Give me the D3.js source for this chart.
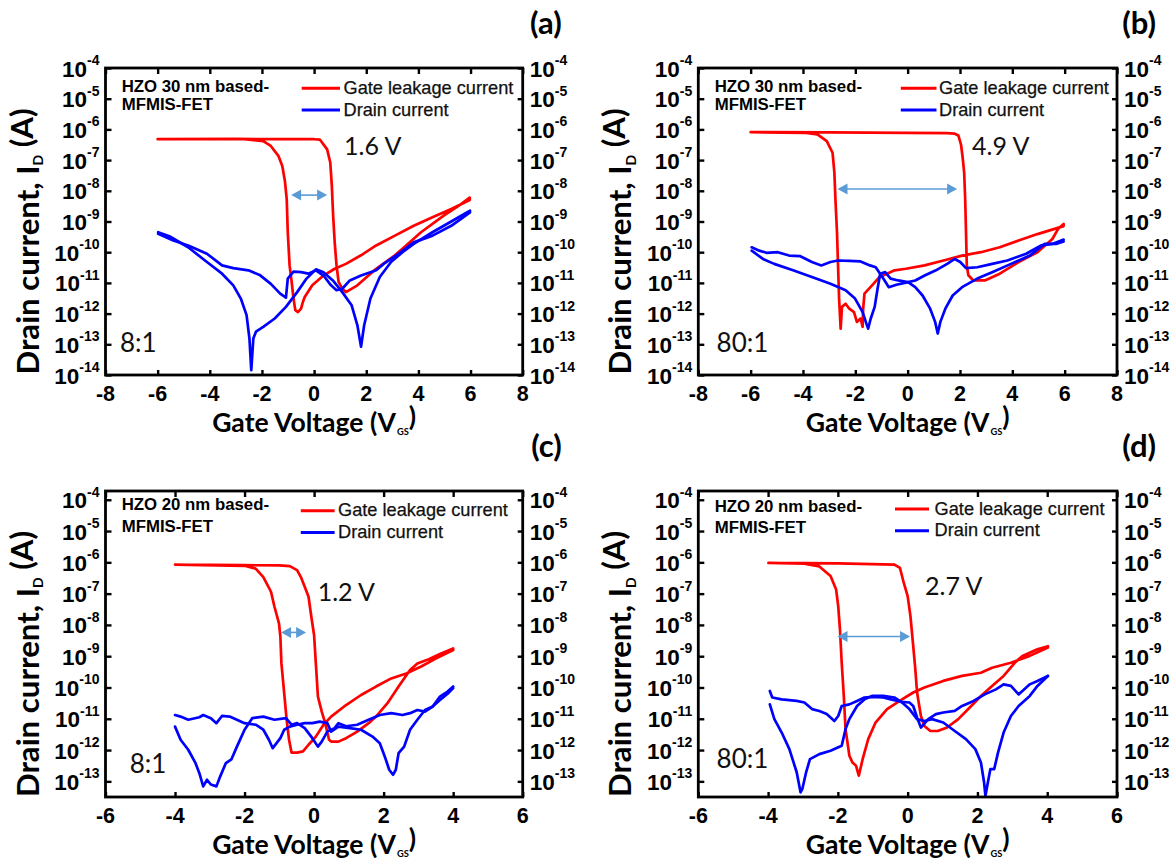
<!DOCTYPE html>
<html><head><meta charset="utf-8">
<script src="https://cdn.jsdelivr.net/npm/d3@7"></script>
<style>body{margin:0;background:#fff} svg{display:block}</style>
</head><body>
<svg id="chart" width="1173" height="865"></svg>
<script>
// ---------- DATA (gate voltage V, log10 of current in A) ----------
const xTicksAB = [-8,-6,-4,-2,0,2,4,6,8];
const xTicksCD = [-6,-4,-2,0,2,4,6];
const yTickExpAB = [-4,-5,-6,-7,-8,-9,-10,-11,-12,-13,-14];
const yTickExpCD = [-4,-5,-6,-7,-8,-9,-10,-11,-12,-13];
const panelLabels = ["(a)","(b)","(c)","(d)"];
const deviceLabels = ["HZO 30 nm based-","HZO 30 nm based-","HZO 20 nm based-","HZO 20 nm based-"];
const ratioLabels = ["8:1","80:1","8:1","80:1"];
const windowLabels = ["1.6 V","4.9 V","1.2 V","2.7 V"];
const seriesNames = ["Gate leakage current","Drain current"];
// memory-window arrows: [V start, V end, log10 I]
const arrowsData = [[-0.88,0.5,-8.14],[-2.68,1.89,-7.94],[-0.95,-0.23,-8.24],[-2.01,0.07,-8.37]];

const gateA = [[-6,-6.32],[-3,-6.31],[0,-6.32],[0.22,-6.33],[0.5,-6.65],[0.62,-7.08],[0.68,-7.84],[0.73,-8.81],[0.79,-9.68],[0.86,-10.43],[0.94,-10.97],[1.08,-11.19],[1.22,-11.3],[1.66,-11.08],[2.38,-10.54],[3.1,-10.1],[3.53,-9.78],[4.1,-9.35],[4.97,-8.81],[5.54,-8.49],[5.97,-8.22],
 [5.97,-8.3],[5.26,-8.59],[4.54,-8.86],[3.82,-9.14],[3.1,-9.46],[2.38,-9.78],[1.8,-10.1],[1.22,-10.38],[0.79,-10.54],[0.36,-10.76],[-0.07,-11.08],[-0.36,-11.46],[-0.43,-11.62],[-0.5,-11.84],[-0.62,-11.95],[-0.72,-11.89],[-0.79,-11.51],[-0.86,-10.97],[-0.94,-10.43],[-1.01,-9.35],[-1.05,-8.27],[-1.12,-7.68],[-1.22,-7.19],[-1.37,-6.86],[-1.66,-6.54],[-1.95,-6.38],[-2.67,-6.32],[-6,-6.32]];
const drainA1 = [[-5.98,-9.35],[-5.55,-9.48],[-4.83,-9.84],[-4.11,-10.32],[-3.53,-10.7],[-3.1,-11.08],[-2.81,-11.51],[-2.59,-12.05],[-2.48,-12.81],[-2.41,-13.84],[-2.33,-12.81],[-2.23,-12.59],[-1.95,-12.43],[-1.51,-12.16],[-1.08,-11.78],[-0.65,-11.3],[-0.29,-10.86],[0.07,-10.56],[0.36,-10.65],[0.72,-10.92],[1.08,-11.3],[1.44,-11.73],[1.66,-12.38],[1.8,-13.08],[1.92,-12.38],[2.16,-11.51],[2.52,-10.81],[2.95,-10.32],[3.39,-10.0],[3.82,-9.73],[4.54,-9.35],[5.26,-9.0],[5.98,-8.65]];
const drainA2 = [[-5.98,-9.4],[-5.4,-9.62],[-4.83,-9.78],[-4.11,-10.05],[-3.53,-10.43],[-3.1,-10.52],[-2.52,-10.59],[-2.09,-10.74],[-1.66,-11.03],[-1.3,-11.35],[-1.08,-11.48],[-1.01,-10.86],[-0.79,-10.63],[-0.5,-10.65],[-0.22,-10.7],[0.07,-10.59],[0.36,-10.76],[0.65,-11.08],[0.86,-11.24],[1.08,-11.19],[1.37,-10.92],[1.8,-10.76],[2.38,-10.59],[2.67,-10.38],[2.95,-10.22],[3.24,-10.05],[3.82,-9.68],[4.54,-9.46],[5.26,-9.14],[5.98,-8.7]];

const gateB = [[-6,-6.09],[-3,-6.1],[0,-6.11],[1.5,-6.12],[1.8,-6.14],[1.94,-6.2],[2.04,-6.5],[2.1,-6.9],[2.16,-7.41],[2.2,-8.3],[2.23,-9.35],[2.26,-10.43],[2.32,-10.75],[2.51,-10.92],[2.95,-10.92],[3.52,-10.7],[4.24,-10.32],[4.96,-10.0],[5.53,-9.57],[5.75,-9.24],[5.96,-9.08],
 [5.96,-9.15],[4.96,-9.41],[4.24,-9.62],[3.52,-9.84],[2.8,-10.0],[2.08,-10.11],[1.37,-10.27],[0.65,-10.43],[-0.07,-10.54],[-0.5,-10.59],[-0.79,-10.7],[-1.08,-10.81],[-1.36,-11.08],[-1.65,-11.35],[-1.7,-11.84],[-1.72,-12.43],[-1.8,-12.16],[-1.94,-12.27],[-2.05,-11.95],[-2.23,-11.84],[-2.37,-11.68],[-2.51,-11.78],[-2.56,-12.49],[-2.62,-11.51],[-2.66,-10.43],[-2.7,-9.35],[-2.76,-8.27],[-2.8,-7.41],[-2.87,-6.76],[-3.09,-6.38],[-3.45,-6.16],[-3.95,-6.11],[-6,-6.09]];
const drainB1 = [[-5.96,-9.84],[-5.67,-9.95],[-5.39,-10.02],[-4.96,-10.0],[-4.53,-10.11],[-4.1,-10.13],[-3.66,-10.32],[-3.3,-10.43],[-2.95,-10.32],[-2.66,-10.27],[-2.23,-10.28],[-1.8,-10.3],[-1.44,-10.43],[-1.22,-10.49],[-0.93,-10.86],[-0.72,-11.14],[-0.43,-11.06],[-0.07,-10.99],[0.29,-10.92],[0.65,-10.76],[1.08,-10.59],[1.51,-10.38],[1.8,-10.22],[2.01,-10.32],[2.23,-10.52],[2.66,-10.49],[3.23,-10.38],[3.81,-10.27],[4.53,-10.05],[5.1,-9.78],[5.53,-9.73],[5.96,-9.59]];
const drainB2 = [[-5.96,-9.95],[-5.53,-10.22],[-5.1,-10.38],[-4.38,-10.59],[-3.66,-10.81],[-2.95,-11.03],[-2.37,-11.24],[-2.01,-11.51],[-1.72,-11.95],[-1.58,-12.32],[-1.51,-12.49],[-1.41,-12.16],[-1.26,-11.78],[-1.15,-11.19],[-1.05,-10.7],[-0.86,-10.65],[-0.65,-10.86],[-0.36,-10.92],[0.0,-10.97],[0.29,-11.14],[0.57,-11.41],[0.86,-11.84],[1.05,-12.27],[1.15,-12.65],[1.25,-12.27],[1.44,-11.84],[1.72,-11.41],[2.08,-11.14],[2.66,-10.86],[3.23,-10.65],[3.95,-10.38],[4.67,-10.11],[5.24,-9.73],[5.67,-9.73],[5.96,-9.65]];

const gateC = [[-4,-6.07],[-2,-6.09],[-1,-6.1],[-0.7,-6.12],[-0.49,-6.25],[-0.38,-6.47],[-0.27,-6.78],[-0.16,-7.1],[-0.08,-7.74],[0.0,-8.33],[0.05,-9.23],[0.11,-10.29],[0.22,-10.77],[0.32,-11.14],[0.43,-11.67],[0.49,-11.73],[0.7,-11.73],[0.92,-11.62],[1.24,-11.41],[1.57,-11.14],[1.78,-10.93],[2.11,-10.5],[2.43,-9.97],[2.76,-9.44],[2.97,-9.23],[3.3,-9.1],[3.62,-8.93],[4.0,-8.75],
 [4.0,-8.8],[3.51,-9.07],[3.08,-9.33],[2.65,-9.55],[2.22,-9.71],[1.78,-9.97],[1.35,-10.24],[0.92,-10.56],[0.49,-10.93],[0.27,-11.19],[0.05,-11.57],[-0.16,-11.83],[-0.32,-12.04],[-0.49,-12.08],[-0.65,-12.08],[-0.72,-11.67],[-0.79,-11.03],[-0.86,-10.19],[-0.94,-9.23],[-0.97,-8.38],[-1.01,-7.95],[-1.14,-7.42],[-1.24,-6.94],[-1.46,-6.47],[-1.68,-6.2],[-2.0,-6.11],[-4,-6.07]];
const drainC1 = [[-4.0,-10.88],[-3.84,-10.93],[-3.62,-11.03],[-3.3,-10.95],[-3.19,-10.88],[-2.97,-10.98],[-2.81,-11.14],[-2.65,-10.91],[-2.43,-10.93],[-2.22,-11.03],[-2.0,-11.14],[-1.68,-11.19],[-1.46,-11.35],[-1.3,-11.67],[-1.19,-11.94],[-1.08,-11.78],[-0.97,-11.62],[-0.86,-11.35],[-0.7,-11.25],[-0.49,-11.19],[-0.27,-11.14],[-0.05,-11.14],[0.16,-11.09],[0.38,-11.14],[0.49,-11.41],[0.7,-11.25],[1.03,-11.3],[1.35,-11.35],[1.68,-11.57],[1.89,-11.78],[2.05,-12.26],[2.16,-12.63],[2.27,-12.79],[2.35,-12.63],[2.43,-12.1],[2.59,-11.89],[2.76,-11.35],[2.97,-11.03],[3.19,-10.72],[3.41,-10.61],[3.62,-10.29],[3.84,-10.13],[4.0,-9.97]];
const drainC2 = [[-4.0,-11.25],[-3.84,-11.67],[-3.62,-11.99],[-3.41,-12.42],[-3.3,-12.74],[-3.19,-13.16],[-3.08,-12.95],[-2.97,-13.1],[-2.81,-13.16],[-2.7,-12.84],[-2.54,-12.42],[-2.38,-12.3],[-2.22,-11.89],[-2.0,-11.35],[-1.78,-10.98],[-1.46,-10.93],[-1.14,-11.03],[-0.81,-10.98],[-0.65,-11.19],[-0.49,-11.14],[-0.27,-11.3],[-0.05,-11.62],[0.11,-11.89],[0.22,-11.73],[0.38,-11.41],[0.59,-11.3],[0.7,-11.14],[0.92,-11.24],[1.24,-11.19],[1.57,-11.03],[1.89,-10.88],[2.22,-10.82],[2.54,-10.88],[2.76,-10.82],[2.97,-10.72],[3.19,-10.77],[3.41,-10.61],[3.62,-10.4],[3.84,-10.2],[4.0,-10.02]];

const gateD = [[-3.99,-6.02],[-2,-6.03],[-0.38,-6.07],[-0.22,-6.18],[-0.11,-6.66],[0.0,-7.08],[0.08,-7.72],[0.16,-8.68],[0.22,-9.42],[0.27,-10.16],[0.38,-10.91],[0.48,-11.23],[0.65,-11.39],[0.86,-11.39],[1.13,-11.28],[1.45,-11.01],[1.78,-10.64],[2.1,-10.27],[2.42,-9.95],[2.75,-9.63],[3.07,-9.21],[3.29,-8.99],[3.72,-8.78],[4.02,-8.68],
 [4.02,-8.72],[3.5,-8.99],[2.96,-9.21],[2.42,-9.37],[2.1,-9.53],[1.56,-9.63],[1.02,-9.79],[0.48,-10.0],[0.16,-10.16],[-0.16,-10.38],[-0.59,-10.69],[-0.92,-11.12],[-1.13,-11.65],[-1.29,-12.29],[-1.4,-12.82],[-1.48,-12.5],[-1.58,-12.4],[-1.67,-12.18],[-1.78,-11.33],[-1.83,-10.27],[-1.89,-9.21],[-1.94,-8.14],[-1.99,-7.4],[-2.05,-6.87],[-2.21,-6.44],[-2.53,-6.13],[-2.96,-6.04],[-3.99,-6.02]];
const drainD1 = [[-3.95,-10.11],[-3.88,-10.32],[-3.61,-10.38],[-3.18,-10.43],[-2.96,-10.48],[-2.74,-10.69],[-2.53,-10.75],[-2.32,-10.85],[-2.1,-11.07],[-1.99,-10.91],[-1.89,-10.59],[-1.67,-10.54],[-1.45,-10.43],[-1.24,-10.32],[-1.02,-10.3],[-0.7,-10.32],[-0.48,-10.38],[-0.16,-10.46],[0.05,-10.48],[0.16,-10.59],[0.27,-10.96],[0.38,-11.28],[0.59,-11.01],[0.81,-10.85],[1.02,-10.8],[1.35,-10.75],[1.56,-10.59],[1.89,-10.43],[2.21,-10.22],[2.53,-10.06],[2.75,-9.9],[2.96,-9.95],[3.18,-10.22],[3.29,-10.11],[3.5,-9.9],[3.72,-9.79],[4.02,-9.63]];
const drainD2 = [[-3.95,-10.54],[-3.82,-11.01],[-3.61,-11.44],[-3.39,-11.97],[-3.18,-12.71],[-3.07,-13.35],[-3.02,-13.25],[-2.91,-12.71],[-2.8,-12.29],[-2.53,-12.13],[-2.21,-12.02],[-1.89,-11.86],[-1.78,-11.33],[-1.67,-11.01],[-1.45,-10.59],[-1.24,-10.38],[-1.02,-10.27],[-0.7,-10.27],[-0.38,-10.32],[-0.16,-10.48],[0.05,-10.69],[0.27,-11.01],[0.48,-11.07],[0.7,-11.01],[1.02,-11.12],[1.35,-11.39],[1.67,-11.65],[1.94,-11.97],[2.1,-12.4],[2.19,-13.03],[2.23,-13.46],[2.3,-13.03],[2.37,-12.61],[2.48,-12.61],[2.59,-12.08],[2.75,-11.44],[2.96,-10.91],[3.18,-10.59],[3.5,-10.27],[3.72,-9.95],[4.02,-9.63]];

// ---------- LAYOUT ----------
const panels = [
 {L:105.5,R:522.7,T:68,B:375,xDom:[-8,8],yDom:[1e-14,1e-4],xT:xTicksAB,yT:yTickExpAB,gate:gateA,drain:[drainA1,drainA2],leg:[301.7,340,343.5,88.3],win:[344,155],rat:[120,352],dev:[121.7,91.7,110]},
 {L:698.3,R:1117,T:68,B:375,xDom:[-8,8],yDom:[1e-14,1e-4],xT:xTicksAB,yT:yTickExpAB,gate:gateB,drain:[drainB1,drainB2],leg:[900.8,936.5,939,88.3],win:[972,155],rat:[716.6,352],dev:[714.7,91.7,110]},
 {L:105.5,R:522.7,T:491,B:797,xDom:[-6,6],yDom:[Math.pow(10,-13.5),Math.pow(10,-3.72)],xT:xTicksCD,yT:yTickExpCD,gate:gateC,drain:[drainC1,drainC2],leg:[300.8,334.6,338,510.7],win:[317.7,601],rat:[129.7,773],dev:[121.7,510,531.7]},
 {L:698.3,R:1117,T:491,B:797,xDom:[-6,6],yDom:[Math.pow(10,-13.5),Math.pow(10,-3.72)],xT:xTicksCD,yT:yTickExpCD,gate:gateD,drain:[drainD1,drainD2],leg:[895,929,934.6,509],win:[925,595],rat:[716.6,768],dev:[714.7,511.5,533]}
];

const RED = "#ff0000", BLUE = "#0000ff", ARROW = "#5b9bd5";
const TICKFONT = "'Liberation Sans', Arial, sans-serif";
const TITLEFONT = "Lato, 'Open Sans', sans-serif";
const svg = d3.select("#chart");

function fitWidth(sel, target){
  const w = sel.node().getComputedTextLength();
  const fs = parseFloat(sel.attr("font-size"));
  sel.attr("font-size", (fs*target/w).toFixed(2));
}

panels.forEach((p, i) => {
  const g = svg.append("g");
  const x = d3.scaleLinear().domain(p.xDom).range([p.L, p.R]);
  const y = d3.scaleLog().domain(p.yDom).range([p.B, p.T]);
  const line = d3.line().x(d => x(d[0])).y(d => y(Math.pow(10, d[1]))).curve(d3.curveLinear);

  // curves
  const curves = g.append("g").attr("fill","none").attr("stroke-width",2.7).attr("stroke-linejoin","round").attr("stroke-linecap","round");
  curves.append("path").attr("d", line(p.gate)).attr("stroke", RED);
  p.drain.forEach(s => curves.append("path").attr("d", line(s)).attr("stroke", BLUE));

  // axes (inward ticks)
  const tickVals = p.yT.map(e => Math.pow(10, e));
  const styleAxis = sel => { sel.select(".domain").remove(); sel.selectAll(".tick line").attr("stroke","#000").attr("stroke-width",2.4); sel.selectAll(".tick text").remove(); };
  g.append("g").attr("transform",`translate(${p.L},0)`).call(d3.axisLeft(y).tickValues(tickVals).tickSize(-6).tickFormat(()=>"")).call(styleAxis);
  g.append("g").attr("transform",`translate(${p.R},0)`).call(d3.axisRight(y).tickValues(tickVals).tickSize(-5).tickFormat(()=>"")).call(styleAxis);
  g.append("g").attr("transform",`translate(0,${p.B})`).call(d3.axisBottom(x).tickValues(p.xT).tickSize(-5).tickFormat(()=>"")).call(styleAxis);
  g.append("g").attr("transform",`translate(0,${p.T})`).call(d3.axisTop(x).tickValues(p.xT).tickSize(-6).tickFormat(()=>"")).call(styleAxis);

  // frame
  g.append("rect").attr("x",p.L).attr("y",p.T).attr("width",p.R-p.L).attr("height",p.B-p.T)
    .attr("fill","none").attr("stroke","#000").attr("stroke-width",2.8);

  // y tick labels (left and right)
  const yLab = (xpos, anchor) => {
    p.yT.forEach(e => {
      const t = g.append("text").attr("x", xpos).attr("y", y(Math.pow(10,e)) + 8.5)
        .attr("text-anchor", anchor).attr("font-family", TICKFONT).attr("font-weight","bold").attr("font-size",22.5).attr("fill","#000");
      t.append("tspan").text("10");
      t.append("tspan").attr("font-size",14).attr("dy",-11.5).text(String(e));
    });
  };
  yLab(p.L - 6, "end");
  yLab(p.R + 7, "start");

  // x tick labels
  p.xT.forEach(v => {
    g.append("text").attr("x", x(v)).attr("y", p.B + 26).attr("text-anchor","middle")
      .attr("font-family", TICKFONT).attr("font-weight","bold").attr("font-size",21.5).text(v);
  });

  // x title
  const xt = g.append("text").attr("x",(p.L+p.R)/2).attr("y",p.B+57).attr("text-anchor","middle")
    .attr("font-family",TITLEFONT).attr("font-weight","bold").attr("font-size",26);
  xt.append("tspan").text("Gate Voltage (V");
  xt.append("tspan").attr("font-size","0.35em").attr("dy","0.35em").attr("dx","0.1em").text("GS");
  xt.append("tspan").attr("dy","-0.35em").text(")");
  fitWidth(xt, 203);

  // y title
  const yt = g.append("text").attr("transform",`translate(${p.L-67},${(p.T+p.B)/2+20}) rotate(-90)`)
    .attr("text-anchor","middle").attr("font-family",TITLEFONT).attr("font-weight","bold").attr("font-size",31);
  yt.append("tspan").text("Drain current, I");
  yt.append("tspan").attr("font-size","0.45em").attr("dy","0.35em").text("D");
  yt.append("tspan").attr("dy","-0.35em").text(" (A)");
  fitWidth(yt, 266);

  // panel label
  g.append("text").attr("x",p.R+39).attr("y",p.T-34).attr("text-anchor","end")
    .attr("font-family",TITLEFONT).attr("font-weight","bold").attr("font-size",31).text(panelLabels[i]);

  // device label
  g.append("text").attr("x",p.dev[0]).attr("y",p.dev[1]).attr("font-family",TICKFONT).attr("font-weight","bold").attr("font-size",16.8).text(deviceLabels[i]);
  g.append("text").attr("x",p.dev[0]).attr("y",p.dev[2]).attr("font-family",TICKFONT).attr("font-weight","bold").attr("font-size",16.8).text("MFMIS-FET");

  // legend
  const [lx0,lx1,ltx,ly] = p.leg;
  [[RED,0],[BLUE,1]].forEach(([c,k]) => {
    const yy = ly + k*21.8;
    g.append("line").attr("x1",lx0).attr("x2",lx1).attr("y1",yy).attr("y2",yy).attr("stroke",c).attr("stroke-width",3);
    g.append("text").attr("x",ltx).attr("y",yy+5.5).attr("font-family",TICKFONT).attr("font-size",18.2).attr("fill","#111")
      .attr("stroke","#111").attr("stroke-width",0.25).text(seriesNames[k]);
  });

  // annotations
  g.append("text").attr("x",p.win[0]).attr("y",p.win[1]).attr("font-family",TITLEFONT).attr("font-size",25).attr("fill","#111").text(windowLabels[i]);
  g.append("text").attr("x",p.rat[0]).attr("y",p.rat[1]).attr("font-family",TITLEFONT).attr("font-size",26).attr("fill","#111").text(ratioLabels[i]);

  // arrow
  const [a0,a1,ae] = arrowsData[i];
  const ax0 = x(a0), ax1 = x(a1), ay = y(Math.pow(10,ae));
  const hl = 10, hw = 5.5;
  g.append("line").attr("x1",ax0+hl-1).attr("x2",ax1-hl+1).attr("y1",ay).attr("y2",ay).attr("stroke",ARROW).attr("stroke-width",1.6);
  g.append("path").attr("d",`M${ax0},${ay} L${ax0+hl},${ay-hw} L${ax0+hl},${ay+hw} Z`).attr("fill",ARROW);
  g.append("path").attr("d",`M${ax1},${ay} L${ax1-hl},${ay-hw} L${ax1-hl},${ay+hw} Z`).attr("fill",ARROW);
});
</script>
</body></html>
